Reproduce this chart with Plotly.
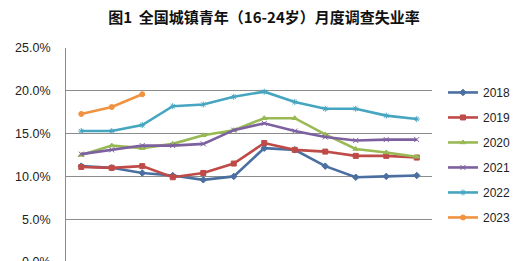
import plotly.graph_objects as go

months = ["1月", "2月", "3月", "4月", "5月", "6月", "7月", "8月", "9月", "10月", "11月", "12月"]
years = ["2018", "2019", "2020", "2021", "2022", "2023"]
v2018 = [11.2, 11.0, 10.4, 10.1, 9.6, 10.0, 13.3, 13.1, 11.2, 9.9, 10.0, 10.1]
v2019 = [11.1, 11.0, 11.2, 9.9, 10.4, 11.5, 13.9, 13.1, 12.9, 12.4, 12.4, 12.2]
v2020 = [12.5, 13.6, 13.3, 13.8, 14.8, 15.4, 16.8, 16.8, 14.9, 13.2, 12.8, 12.3]
v2021 = [12.6, 13.1, 13.6, 13.6, 13.8, 15.4, 16.2, 15.3, 14.6, 14.2, 14.3, 14.3]
v2022 = [15.3, 15.3, 16.0, 18.2, 18.4, 19.3, 19.9, 18.7, 17.9, 17.9, 17.1, 16.7]
v2023 = [17.3, 18.1, 19.6]
series = [v2018, v2019, v2020, v2021, v2022, v2023]
colors = ["#4A6FA0", "#BE4B48", "#98B954", "#7D60A0", "#46A5C0", "#F0923F"]
symbols = ["diamond", "square", "triangle-up", "x-thin", "asterisk", "circle"]
ytick_vals = [0, 5, 10, 15, 20, 25]
ytick_text = ["0.0%", "5.0%", "10.0%", "15.0%", "20.0%", "25.0%"]

fig = go.Figure()
for name, vals, c, s in zip(years, series, colors, symbols):
    fig.add_trace(go.Scatter(
        x=months[:len(vals)], y=vals, name=name, mode="lines+markers",
        legendgroup=name,
        line=dict(color=c, width=2.6),
        marker=dict(symbol=s, size=5, color=c, line=dict(color=c, width=1)),
    ))

fig.update_layout(
    width=528, height=300,
    margin=dict(l=66, r=93, t=48, b=38),
    paper_bgcolor="white", plot_bgcolor="white",
    title=dict(text="<b>图1&nbsp;&nbsp;全国城镇青年（16-24岁）月度调查失业率</b>",
               x=0.5, xanchor="center", y=1 - 18 / 300, yanchor="middle",
               font=dict(family="Noto Sans CJK SC", size=15, color="#111111")),
    showlegend=True,
    legend=dict(x=1.03, xanchor="left", y=0.86, yanchor="top",
                font=dict(family="Liberation Sans", size=12, color="#222222"),
                tracegroupgap=6, bgcolor="rgba(0,0,0,0)"),
    font=dict(family="Liberation Sans", size=12, color="#333333"),
)
fig.update_xaxes(categoryorder="array", categoryarray=months, range=[-0.5, 11.5],
                 showticklabels=False, showgrid=False, showline=True,
                 linecolor="#888888", ticks="")
fig.update_yaxes(range=[0, 25], tickvals=ytick_vals, ticktext=ytick_text,
                 showgrid=True, gridcolor="#8C8C8C", gridwidth=1,
                 showline=True, linecolor="#8C8C8C", zeroline=False,
                 ticks="", ticklabelstandoff=12,
                 tickfont=dict(family="Liberation Sans", size=12.5, color="#222222"))

fig.write_html("out.html", post_script="document.body.style.overflow='hidden';document.documentElement.style.overflow='hidden';document.body.style.margin='0';")
